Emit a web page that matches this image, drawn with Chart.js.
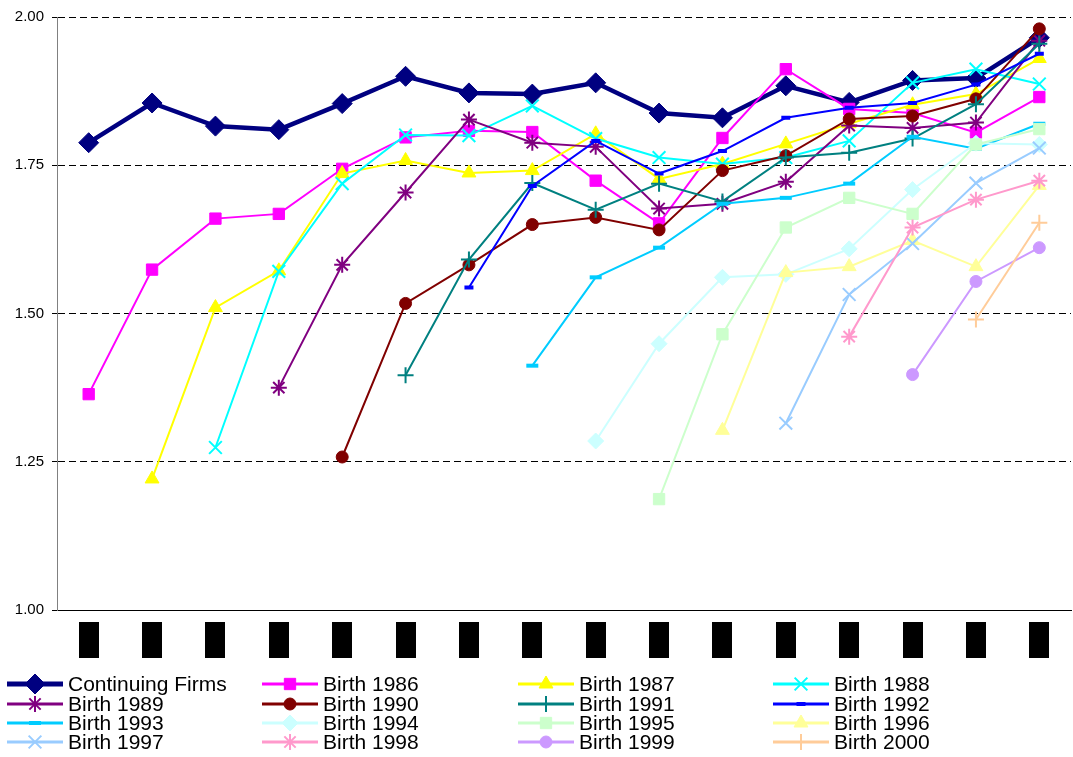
<!DOCTYPE html>
<html>
<head>
<meta charset="utf-8">
<script src="https://cdn.jsdelivr.net/npm/chart.js@4"></script>
<style>
  html, body { margin: 0; padding: 0; background: #fff; overflow: hidden; }
  #wrap { width: 1073px; height: 757px; overflow: hidden; }
</style>
</head>
<body>
<div id="wrap"><canvas id="chart" width="1082" height="757"></canvas></div>
<script>
// Categories (x axis) and y ticks
const years = ['1986','1987','1988','1989','1990','1991','1992','1993','1994','1995','1996','1997','1998','1999','2000','2001'];
const yTicks = [1.00, 1.25, 1.50, 1.75, 2.00];

// Series values
const continuing = [1.788,1.855,1.816,1.81,1.854,1.90,1.872,1.87,1.889,1.838,1.83,1.884,1.856,1.893,1.897,1.965];
const birth1986 = [1.364,1.574,1.66,1.668,1.744,1.797,1.808,1.806,1.724,1.652,1.796,1.912,1.845,1.838,1.805,1.865];
const birth1987 = [null,1.221,1.51,1.572,1.736,1.758,1.737,1.741,1.803,1.727,1.752,1.786,1.82,1.852,1.87,1.93];
const birth1988 = [null,null,1.274,1.571,1.719,1.801,1.80,1.85,1.795,1.763,1.752,1.763,1.791,1.889,1.912,1.887];
const birth1989 = [null,null,null,1.375,1.582,1.704,1.827,1.788,1.781,1.677,1.685,1.722,1.817,1.813,1.822,1.96];
const birth1990 = [null,null,null,null,1.258,1.517,1.582,1.65,1.662,1.641,1.741,1.766,1.828,1.833,1.862,1.98];
const birth1991 = [null,null,null,null,null,1.396,1.591,1.72,1.675,1.719,1.689,1.763,1.771,1.795,1.853,1.955];
const birth1992 = [null,null,null,null,null,null,1.544,1.715,1.791,1.736,1.774,1.83,1.847,1.855,1.886,1.938];
const birth1993 = [null,null,null,null,null,null,null,1.412,1.561,1.611,1.685,1.695,1.719,1.798,1.778,1.82];
const birth1994 = [null,null,null,null,null,null,null,null,1.285,1.449,1.561,1.566,1.609,1.709,1.787,1.785];
const birth1995 = [null,null,null,null,null,null,null,null,null,1.187,1.465,1.645,1.695,1.668,1.785,1.811];
const birth1996 = [null,null,null,null,null,null,null,null,null,null,1.303,1.569,1.579,1.623,1.579,1.716];
const birth1997 = [null,null,null,null,null,null,null,null,null,null,null,1.315,1.532,1.618,1.72,1.779];
const birth1998 = [null,null,null,null,null,null,null,null,null,null,null,null,1.461,1.645,1.692,1.724];
const birth1999 = [null,null,null,null,null,null,null,null,null,null,null,null,null,1.397,1.554,1.611];
const birth2000 = [null,null,null,null,null,null,null,null,null,null,null,null,null,null,1.49,1.653];

function series(label, data, color, style, radius, extra) {
    return Object.assign({
        label,
        data,
        borderColor: color,
        backgroundColor: color,
        borderWidth: 2,
        pointStyle: style,
        pointRadius: radius,
        pointHoverRadius: radius,
        pointBorderWidth: 1,
        pointBorderColor: color,
        pointBackgroundColor: color,
        tension: 0,
        spanGaps: false,
    }, extra || {});
}

const datasets = [
    series('Continuing Firms', continuing, '#000080', 'rectRot', 10, { borderWidth: 4.5 }),
    series('Birth 1986', birth1986, '#FF00FF', 'rect', 8),
    series('Birth 1987', birth1987, '#FFFF00', 'triangle', 8),
    series('Birth 1988', birth1988, '#00FFFF', 'crossRot', 9, { pointBorderWidth: 2 }),
    series('Birth 1989', birth1989, '#800080', 'star', 8, { pointBorderWidth: 2 }),
    series('Birth 1990', birth1990, '#800000', 'circle', 6),
    series('Birth 1991', birth1991, '#008080', 'cross', 8, { pointBorderWidth: 2 }),
    series('Birth 1992', birth1992, '#0000FF', 'line', 4.5, { pointBorderWidth: 4 }),
    series('Birth 1993', birth1993, '#00CCFF', 'line', 6, { pointBorderWidth: 4 }),
    series('Birth 1994', birth1994, '#CCFFFF', 'rectRot', 8),
    series('Birth 1995', birth1995, '#CCFFCC', 'rect', 8),
    series('Birth 1996', birth1996, '#FFFF99', 'triangle', 8),
    series('Birth 1997', birth1997, '#99CCFF', 'crossRot', 9, { pointBorderWidth: 2 }),
    series('Birth 1998', birth1998, '#FF99CC', 'star', 8, { pointBorderWidth: 2 }),
    series('Birth 1999', birth1999, '#CC99FF', 'circle', 6),
    series('Birth 2000', birth2000, '#FFCC99', 'cross', 8, { pointBorderWidth: 2 }),
];
// later series drawn on top, like the original
datasets.forEach((d, i) => { d.order = datasets.length - i; });

// black blocks where the x labels sit
const labelBlocks = {
    id: 'labelBlocks',
    afterDraw(chart) {
        const ctx = chart.ctx;
        const x = chart.scales.x;
        ctx.save();
        years.forEach((yr, i) => {
            const px = x.getPixelForValue(i);
            ctx.fillStyle = '#000';
            ctx.fillRect(Math.round(px) - 10, 622, 20, 36);
            ctx.save();
            ctx.translate(px, 640);
            ctx.rotate(-Math.PI / 2);
            ctx.font = '13px "Liberation Sans", Arial';
            ctx.textAlign = 'center';
            ctx.textBaseline = 'middle';
            ctx.fillText(yr, 0, 0);
            ctx.restore();
        });
        ctx.restore();
    }
};

// legend in 4 fixed columns
const gridLegend = {
    id: 'gridLegend',
    afterDraw(chart) {
        const ctx = chart.ctx;
        const colX = [7, 262, 518, 773];
        const rowY = [684, 704, 723, 742];
        ctx.save();
        chart.data.datasets.forEach((ds, i) => {
            const x0 = colX[i % 4];
            const y = rowY[Math.floor(i / 4)];
            ctx.strokeStyle = ds.borderColor;
            ctx.lineWidth = i === 0 ? 5 : 3;
            ctx.beginPath();
            ctx.moveTo(x0, y);
            ctx.lineTo(x0 + 56, y);
            ctx.stroke();
            ctx.fillStyle = ds.pointBackgroundColor;
            ctx.strokeStyle = ds.pointBorderColor;
            ctx.lineWidth = ds.pointBorderWidth;
            Chart.helpers.drawPoint(ctx, {
                pointStyle: ds.pointStyle,
                radius: ds.pointRadius,
                rotation: 0,
                borderWidth: ds.pointBorderWidth
            }, x0 + 28, y);
            ctx.fillStyle = '#000';
            ctx.font = '21px "Liberation Sans", Arial';
            ctx.textAlign = 'left';
            ctx.textBaseline = 'middle';
            ctx.fillText(ds.label, x0 + 61, y + 1);
        });
        ctx.restore();
    }
};

new Chart(document.getElementById('chart'), {
    type: 'line',
    data: { labels: years, datasets },
    options: {
        responsive: false,
        animation: false,
        layout: { padding: { top: 16, bottom: 92, left: 0, right: 0 } },
        scales: {
            x: {
                offset: true,
                grid: { display: false },
                border: { color: '#000', width: 1 },
                ticks: { display: false },
                afterFit: (s) => { s.height = 55; }
            },
            y: {
                min: 1,
                max: 2,
                afterBuildTicks: (s) => { s.ticks = yTicks.map(v => ({ value: v })); },
                afterFit: (s) => { s.width = 57; },
                border: { color: '#808080', width: 1, dash: [7, 4] },
                grid: {
                    color: '#000',
                    lineWidth: 1,
                    drawTicks: true,
                    tickLength: 5,
                    tickColor: '#000',
                    tickBorderDash: []
                },
                ticks: {
                    padding: 8,
                    color: '#000',
                    font: { family: '"Liberation Sans", Arial', size: 15 },
                    callback: (v) => Number(v).toFixed(2)
                }
            }
        },
        plugins: {
            legend: { display: false },
            tooltip: { enabled: false }
        }
    },
    plugins: [labelBlocks, gridLegend]
});
</script>
</body>
</html>
